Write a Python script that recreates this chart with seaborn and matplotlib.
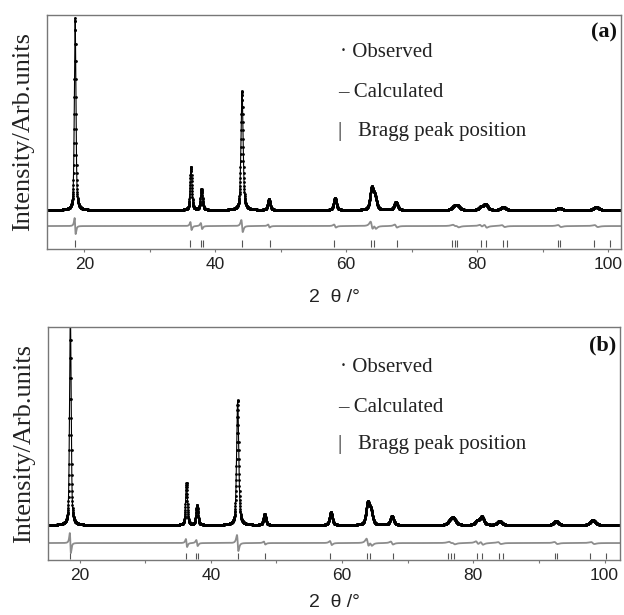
import numpy as np
import pandas as pd
import matplotlib
matplotlib.use("Agg")
import matplotlib.pyplot as plt
import seaborn as sns

# peak positions (2 theta, deg) and widths
peak_pos = [18.6, 36.3, 37.9, 44.1, 48.2, 58.3, 63.9, 64.4, 67.6, 76.5, 77.0, 80.6, 81.3, 84.0, 92.6, 98.2]
peak_fwhm = [0.28, 0.32, 0.36, 0.38, 0.42, 0.5, 0.6, 0.6, 0.6, 0.8, 0.8, 0.7, 0.7, 0.8, 0.8, 0.9]

# peak heights above background (arb. units), panel a and b
height_a = [192, 43, 21, 119, 11, 12, 21, 12, 8, 3, 4, 3, 6, 3, 2, 3]
height_b = [215, 42, 20, 125, 11, 13, 21, 13, 9, 4, 6, 4, 8, 4, 4, 5]

# size of the obs-calc wiggles at each peak
diff_a = [8, 4, 3, 6, 1.5, 1.5, 4, 2, 1.5, 1, 1, 1, 1.5, 1, 1, 1]
diff_b = [10, 4, 3, 8, 1.5, 2, 4, 2, 1.5, 1, 1, 1.5, 1.5, 1, 1, 1]

# Bragg reflections
bragg_pos = [18.6, 36.2, 37.8, 38.1, 44.1, 48.3, 58.2, 63.8, 64.2, 67.7, 76.2, 76.6, 77.0,
             80.6, 81.4, 83.9, 84.5, 92.4, 92.7, 97.8, 100.3]

# background / offsets of each trace
base_a, diff0_a, tick_a = 39, 23, (2, 9)
base_b, diff0_b, tick_b = 35, 17, (1, 7)

two_theta = np.arange(14.0, 102.6, 0.02)


def profile(x, heights):
    y = np.zeros_like(x)
    for p, w, h in zip(peak_pos, peak_fwhm, heights):
        u = (x - p) / (w / 2)
        y += h * (0.5 / (1 + u ** 2) + 0.5 * np.exp(-np.log(2) * u ** 2))
    return y


def difference(x, amps):
    y = np.zeros_like(x)
    for p, w, a in zip(peak_pos, peak_fwhm, amps):
        u = (x - p) / (w / 2)
        y += a * (-u / (1 + u ** 2) ** 2) / 0.325
    return y


sns.set_theme(style="white")
plt.rcParams["font.family"] = ["Liberation Serif", "DejaVu Serif"]

fig = plt.figure(figsize=(6.24, 6.15), dpi=100)
ax_a = fig.add_axes([0.0753, 0.595, 0.92, 0.381])
ax_b = fig.add_axes([0.077, 0.0894, 0.917, 0.3786])

panels = [
    (ax_a, height_a, diff_a, base_a, diff0_a, tick_a, (14.3, 102.0), 234, "(a)",
     [0.838, 0.667, 0.50], 12),
    (ax_b, height_b, diff_b, base_b, diff0_b, tick_b, (15.2, 102.4), 233, "(b)",
     [0.828, 0.657, 0.494], 8),
]

for ax, heights, amps, base, d0, tk, xlim, ytop, tag, leg_y, xpad in panels:
    calc = base + profile(two_theta, heights)
    df = pd.DataFrame({"two_theta": two_theta,
                       "obs": calc,
                       "calc": calc,
                       "diff": d0 + difference(two_theta, amps)})

    sns.scatterplot(data=df, x="two_theta", y="obs", ax=ax, s=4, color="black",
                    linewidth=0, legend=False)
    sns.lineplot(data=df, x="two_theta", y="calc", ax=ax, color="black", lw=0.8,
                 estimator=None)
    sns.lineplot(data=df, x="two_theta", y="diff", ax=ax, color="#8c8c8c", lw=1.3,
                 estimator=None)
    ax.vlines(bragg_pos, tk[0], tk[1], color="#555555", lw=0.8)

    ax.set_xlim(*xlim)
    ax.set_ylim(0, ytop)
    ax.set_yticks([])
    ax.set_xticks([20, 40, 60, 80, 100])
    ax.set_xticks(np.arange(20, 101, 10), minor=True)
    ax.tick_params(axis="x", which="both", bottom=True, direction="out", length=2,
                   width=0.8, color="#777777", pad=4, labelsize=12.5, labelcolor="#222222")
    for lab in ax.get_xticklabels():
        lab.set_fontfamily(["Liberation Sans", "DejaVu Sans"])
    for sp in ax.spines.values():
        sp.set_color("#777777")
        sp.set_linewidth(1.0)

    ax.set_xlabel("2  θ /°", fontsize=14, family=["Liberation Sans", "DejaVu Sans"],
                  labelpad=xpad, color="#222222")
    ax.set_ylabel("Intensity/Arb.units", fontsize=19, labelpad=9, color="#222222")

    ax.text(0.51, leg_y[0], "· Observed", transform=ax.transAxes, fontsize=15,
            va="center", ha="left", color="#222222")
    ax.text(0.507, leg_y[1], "– Calculated", transform=ax.transAxes, fontsize=15,
            va="center", ha="left", color="#222222")
    ax.text(0.507, leg_y[2], "|   Bragg peak position", transform=ax.transAxes,
            fontsize=15, va="center", ha="left", color="#222222")
    ax.text(0.993, 0.923, tag, transform=ax.transAxes, fontsize=16, fontweight="bold",
            va="center", ha="right", color="#111111")

fig.savefig("out.png", dpi=100)
